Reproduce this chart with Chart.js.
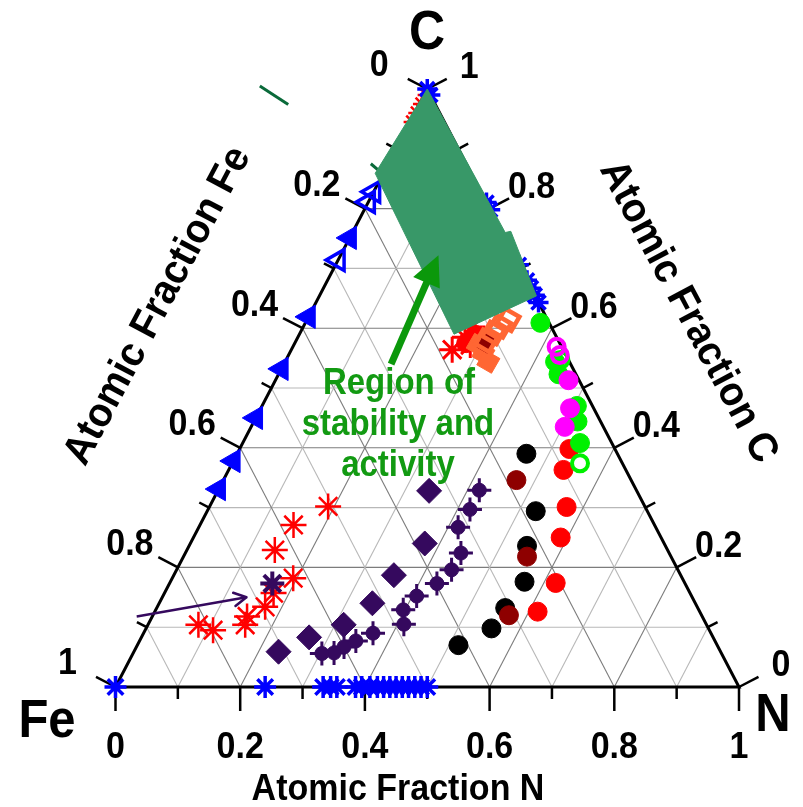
<!DOCTYPE html>
<html>
<head>
<meta charset="utf-8">
<script src="https://cdn.jsdelivr.net/npm/chart.js@4.4.1/dist/chart.umd.min.js"></script>
<style>
  html, body { margin: 0; padding: 0; background: #fff; }
  canvas { display: block; }
</style>
</head>
<body>
<canvas id="ternary" width="803" height="807"></canvas>
<script>
// Fe–N–C compositions, each point stored as [atomic fraction N, atomic fraction C]; Fe = 1 - N - C.

// Tick values and labels shared by the three axes
const tickValues = [0, 0.2, 0.4, 0.6, 0.8, 1];
const nTickLabels = ['0', '0.2', '0.4', '0.6', '0.8', '1'];
const feTickLabels = ['0', '0.2', '0.4', '0.6', '0.8', '1'];
const cTickLabels = ['0', '0.2', '0.4', '0.6', '0.8', '1'];

// Blue asterisks on the Fe–N edge (C = 0)
const blueStarsFeN = [0, 0.24, 0.333, 0.345, 0.355, 0.385, 0.395, 0.408, 0.42, 0.43, 0.44, 0.45, 0.46, 0.47, 0.48, 0.49, 0.50];
// Blue asterisks on the N–C edge (Fe = 0), listed by C fraction
const blueStarsNC = [1.0, 0.99, 0.81, 0.798, 0.706, 0.68, 0.667, 0.655, 0.643];
// Red asterisks close to pure carbon
const redStarsTop = [[0.004, 0.99], [0.004, 0.975], [0.004, 0.96], [0.004, 0.945]];
// Blue triangles on the Fe–C edge (N = 0), listed by C fraction
const blueTrianglesFilled = [0.751, 0.619, 0.532, 0.45, 0.378, 0.331];
const blueTrianglesOpen = [0.828, 0.811, 0.714];

const redStars = [[0.190, 0.302], [0.150, 0.271], [0.141, 0.229], [0.194, 0.182], [0.175, 0.157],
                  [0.173, 0.134], [0.152, 0.118], [0.156, 0.104], [0.081, 0.104], [0.109, 0.095]];
const purpleStar = [[0.165, 0.173]];
const purpleDiamonds = [[0.339, 0.328], [0.376, 0.240], [0.353, 0.187], [0.342, 0.140],
                        [0.314, 0.104], [0.269, 0.083], [0.232, 0.059]];
const purpleCrossed = [[0.419, 0.329], [0.420, 0.297], [0.416, 0.267], [0.442, 0.224], [0.441, 0.196],
                       [0.429, 0.173], [0.407, 0.152], [0.397, 0.129], [0.410, 0.105], [0.368, 0.090],
                       [0.347, 0.077], [0.333, 0.067], [0.322, 0.057], [0.303, 0.056]];
const blackDots = [[0.464, 0.390], [0.527, 0.294], [0.542, 0.236], [0.568, 0.176], [0.559, 0.132],
                   [0.554, 0.098], [0.515, 0.070]];
const darkRedDots = [[0.470, 0.346], [0.551, 0.218], [0.571, 0.120]];
const redDots = [[0.529, 0.398], [0.537, 0.363], [0.573, 0.301], [0.589, 0.250], [0.619, 0.174], [0.614, 0.126]];
const greenDots = [[0.377, 0.609], [0.433, 0.544], [0.449, 0.523], [0.505, 0.470], [0.519, 0.444], [0.541, 0.408]];
const greenRings = [[0.558, 0.374], [0.440, 0.547]];
const magentaDots = [[0.470, 0.513], [0.496, 0.466], [0.503, 0.435]];
const magentaRings = [[0.423, 0.569], [0.435, 0.555]];
const coralOpen = [[0.323, 0.614], [0.315, 0.603], [0.310, 0.592], [0.305, 0.579]];
const coralFilled = [[0.311, 0.558], [0.326, 0.544], [0.295, 0.572]];
const darkRedDiamonds = [[0.308, 0.585], [0.307, 0.572]];
const redStarsCluster = [[0.258, 0.564], [0.268, 0.585], [0.271, 0.602], [0.283, 0.572]];
const redDotsCluster = [[0.282, 0.589], [0.275, 0.575]];

// Shaded region of stability and activity
const stabilityRegion = [[0, 1], [-0.013, 0.859], [0.248, 0.590], [0.348, 0.654], [0.253, 0.762], [0.245, 0.760], [0, 1]];
const strayStrokes = [[[-0.271, 1.005], [-0.210, 0.974]], [[-0.028, 0.875], [-0.010, 0.864]]];

// Arrows: [tail, tip]
const greenArrow = [[0.172, 0.540], [0.157, 0.722]];
const purpleArrow = [[-0.025, 0.118], [0.135, 0.150]];

const regionLabel = ['Region of', 'stability and', 'activity'];

// ---- colours ----
const BLUE = '#0000ff', RED = '#ff0000', DARKRED = '#8e0000', PURPLE = '#35095e';
const GREEN = '#00f000', MAGENTA = '#ff00ff', CORAL = '#ff6633', REGION = '#389868';
const ARROW_GREEN = '#0b980b', TEXT_GREEN = '#129a12', NONE = 'rgba(0,0,0,0)';

// ternary (N, C) -> cartesian chart values
const toXY = ([n, c]) => ({ x: n + c / 2, y: c });
const pts = arr => arr.map(toXY);

function markers(arr, style, radius, fill, stroke, width, rotation) {
  return {
    data: pts(arr), showLine: false, clip: false,
    pointStyle: style, pointRadius: radius, pointHoverRadius: radius,
    pointBackgroundColor: fill, pointBorderColor: stroke, pointBorderWidth: width,
    pointRotation: rotation || 0
  };
}
function stroke(arr, color, width) {
  return { data: pts(arr), showLine: true, clip: false, borderColor: color, borderWidth: width,
           pointRadius: 0, fill: false, tension: 0 };
}

const shaftEnd = [greenArrow[0][0] + 0.85 * (greenArrow[1][0] - greenArrow[0][0]),
                  greenArrow[0][1] + 0.85 * (greenArrow[1][1] - greenArrow[0][1])];

// first dataset is painted last (on top)
const datasets = [
  stroke([greenArrow[0], shaftEnd], ARROW_GREEN, 7),
  stroke(purpleArrow, PURPLE, 2.5),
  Object.assign(stroke(stabilityRegion, REGION, 1), { fill: 'shape', backgroundColor: REGION }),
  ...strayStrokes.map(s => stroke(s, '#0a6a3a', 3)),
  markers(purpleStar, 'star', 12, PURPLE, PURPLE, 4),
  markers(coralOpen, 'rectRot', 11.5, NONE, CORAL, 4.5, -15),
  markers(darkRedDiamonds, 'rectRot', 8.5, DARKRED, DARKRED, 1, -15),
  markers(coralFilled, 'rectRot', 12, CORAL, CORAL, 1, -15),
  markers(redStarsCluster, 'star', 13, RED, RED, 3),
  markers(redDotsCluster, 'circle', 9.5, RED, RED, 1),
  markers(purpleCrossed, 'circle', 7, PURPLE, PURPLE, 1),
  markers(purpleCrossed, 'cross', 12, PURPLE, PURPLE, 3),
  markers(purpleDiamonds, 'rectRot', 12.5, PURPLE, PURPLE, 1),
  markers(redStars, 'star', 13, RED, RED, 2.5),
  markers(magentaRings, 'circle', 8, NONE, MAGENTA, 4),
  markers(greenRings, 'circle', 8, NONE, GREEN, 4),
  markers(magentaDots, 'circle', 9.5, MAGENTA, MAGENTA, 1),
  markers(greenDots, 'circle', 9.5, GREEN, GREEN, 1),
  markers(redDots, 'circle', 9.5, RED, RED, 1),
  markers(darkRedDots, 'circle', 9.5, DARKRED, DARKRED, 1),
  markers(blackDots, 'circle', 9.5, '#000', '#000', 1),
  markers(blueTrianglesOpen.map(c => [0, c]), 'triangle', 12, NONE, BLUE, 3.5, -90),
  markers(blueTrianglesFilled.map(c => [0, c]), 'triangle', 13.5, BLUE, BLUE, 1, -90),
  markers(blueStarsFeN.map(n => [n, 0]), 'star', 11, BLUE, BLUE, 3.5),
  markers(blueStarsNC.map(c => [1 - c, c]), 'star', 10, BLUE, BLUE, 3.5),
  markers(redStarsTop, 'star', 9, RED, RED, 2.5)
];

const FONT = '"Liberation Sans", Arial, Helvetica, sans-serif';

function pixel(chart, n, c) {
  const { x, y } = chart.scales;
  return [x.getPixelForValue(n + c / 2), y.getPixelForValue(c)];
}
function seg(ctx, a, b) {
  ctx.beginPath(); ctx.moveTo(a[0], a[1]); ctx.lineTo(b[0], b[1]); ctx.stroke();
}
function unit(v) { const l = Math.hypot(v[0], v[1]); return [v[0] / l, v[1] / l]; }

// grid, triangle frame and ticks
const ternaryFrame = {
  id: 'ternaryFrame',
  beforeDatasetsDraw(chart) {
    const ctx = chart.ctx;
    const P = (n, c) => pixel(chart, n, c);
    ctx.save();
    ctx.lineWidth = 1.1;
    for (let k = 1; k < 10; k++) {
      const v = k / 10;
      ctx.strokeStyle = k % 2 === 0 ? '#7c7c7c' : '#b8b8b8';
      seg(ctx, P(0, v), P(1 - v, v));
      seg(ctx, P(v, 0), P(v, 1 - v));
      seg(ctx, P(1 - v, 0), P(0, 1 - v));
    }
    const fe = P(0, 0), nn = P(1, 0), cc = P(0, 1);
    const leftOut = unit([-(fe[1] - cc[1]), -(cc[0] - fe[0])]);   // outward normal of Fe–C edge
    const rightOut = unit([(nn[1] - cc[1]), -(nn[0] - cc[0])]);   // outward normal of N–C edge
    ctx.strokeStyle = '#000';
    ctx.lineCap = 'butt';
    ctx.lineWidth = 2.5;
    for (let k = 0; k <= 10; k++) {
      const v = k / 10, major = k % 2 === 0;
      const b = P(v, 0);
      seg(ctx, b, [b[0], b[1] + (major ? 24 : 12)]);
      const l = P(0, 1 - v), len = major ? 22 : 11;
      seg(ctx, l, [l[0] + leftOut[0] * len, l[1] + leftOut[1] * len]);
      const r = P(1 - v, v);
      seg(ctx, r, [r[0] + rightOut[0] * len, r[1] + rightOut[1] * len]);
    }
    ctx.lineWidth = 3;
    ctx.lineJoin = 'miter';
    ctx.beginPath();
    ctx.moveTo(fe[0], fe[1]); ctx.lineTo(nn[0], nn[1]); ctx.lineTo(cc[0], cc[1]); ctx.closePath();
    ctx.stroke();
    ctx.restore();
  }
};

function label(ctx, text, x, y, size, color, rot, sy) {
  ctx.save();
  ctx.translate(x, y);
  ctx.rotate(rot || 0);
  ctx.scale(1, sy || 1.1);
  ctx.font = 'bold ' + size + 'px ' + FONT;
  ctx.fillStyle = color || '#000';
  ctx.textAlign = 'center';
  ctx.textBaseline = 'middle';
  ctx.fillText(text, 0, 0);
  ctx.restore();
}

// tick labels, titles, arrowheads and annotation text
const ternaryText = {
  id: 'ternaryText',
  afterDatasetsDraw(chart) {
    const ctx = chart.ctx;
    const P = (n, c) => pixel(chart, n, c);
    tickValues.forEach((v, i) => {
      const b = P(v, 0);
      label(ctx, nTickLabels[i], b[0], 748, 34);
      const l = P(0, 1 - v);
      label(ctx, feTickLabels[i], l[0] - 48, l[1] - 23, 34);
      const r = P(1 - v, v);
      label(ctx, cTickLabels[i], r[0] + 42, r[1] - 21, 34);
    });
    label(ctx, 'C', 427, 34, 50);
    label(ctx, 'Fe', 47, 722, 49);
    label(ctx, 'N', 773, 716, 49);
    label(ctx, 'Atomic Fraction N', 398, 790, 34);
    label(ctx, 'Atomic Fraction Fe', 158, 306, 39, '#000', -62 * Math.PI / 180, 1.05);
    label(ctx, 'Atomic Fraction C', 688, 312, 39, '#000', 62 * Math.PI / 180, 1.05);

    // green arrowhead
    const gt = P(...greenArrow[1]), gs = P(...greenArrow[0]);
    let d = unit([gt[0] - gs[0], gt[1] - gs[1]]);
    const headLen = 30, halfW = 14.5;
    const base = [gt[0] - d[0] * headLen, gt[1] - d[1] * headLen];
    ctx.save();
    ctx.fillStyle = ARROW_GREEN;
    ctx.beginPath();
    ctx.moveTo(gt[0], gt[1]);
    ctx.lineTo(base[0] - d[1] * halfW, base[1] + d[0] * halfW);
    ctx.lineTo(base[0] + d[1] * halfW, base[1] - d[0] * halfW);
    ctx.closePath();
    ctx.fill();
    ctx.restore();

    // purple open arrowhead
    const pt = P(...purpleArrow[1]), ps = P(...purpleArrow[0]);
    d = unit([pt[0] - ps[0], pt[1] - ps[1]]);
    const ang = Math.atan2(d[1], d[0]);
    ctx.save();
    ctx.strokeStyle = PURPLE;
    ctx.lineWidth = 2.5;
    ctx.lineCap = 'round';
    ctx.beginPath();
    for (const s of [-1, 1]) {
      const a = ang + Math.PI + s * 0.5;
      ctx.moveTo(pt[0], pt[1]);
      ctx.lineTo(pt[0] + Math.cos(a) * 14, pt[1] + Math.sin(a) * 14);
    }
    ctx.stroke();
    ctx.restore();

    // annotation text
    label(ctx, regionLabel[0], 399, 384, 33, TEXT_GREEN);
    label(ctx, regionLabel[1], 398, 425, 33, TEXT_GREEN);
    label(ctx, regionLabel[2], 398, 466, 33, TEXT_GREEN);
  }
};

new Chart(document.getElementById('ternary'), {
  type: 'scatter',
  data: { datasets },
  options: {
    responsive: false,
    animation: false,
    devicePixelRatio: 1,
    events: [],
    layout: { padding: { left: 115.5, right: 64, top: 89, bottom: 120 } },
    scales: {
      x: { type: 'linear', min: 0, max: 1, display: false },
      y: { type: 'linear', min: 0, max: 1, display: false }
    },
    plugins: { legend: { display: false }, tooltip: { enabled: false } },
    elements: { line: { tension: 0 } }
  },
  plugins: [ternaryFrame, ternaryText]
});
</script>
</body>
</html>
